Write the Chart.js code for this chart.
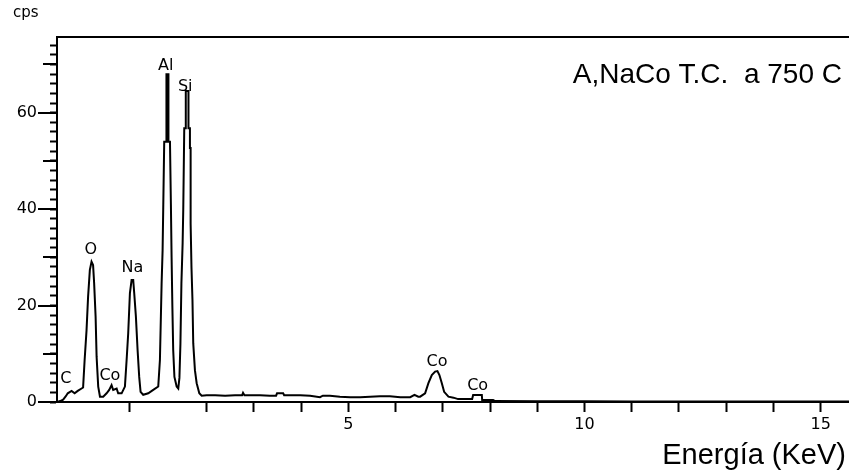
<!DOCTYPE html>
<html>
<head>
<meta charset="utf-8">
<title>A,NaCo T.C. a 750 C</title>
<script src="https://cdn.jsdelivr.net/npm/chart.js@4.4.1/dist/chart.umd.min.js"></script>
<style>
  html, body { margin: 0; padding: 0; background: #fff; }
  canvas { display: block; }
</style>
</head>
<body>
<canvas id="spectrum" width="849" height="470"></canvas>
<script>
// EDS spectrum (energy in keV, counts in cps)
var energy = [
  0.05, 0.09, 0.13, 0.165, 0.19, 0.24, 0.28, 0.32, 0.37, 0.39,
  0.41, 0.435, 0.455, 0.478, 0.50, 0.52, 0.534, 0.553, 0.566, 0.587,
  0.61, 0.652, 0.696, 0.73, 0.761, 0.782, 0.827, 0.847, 0.892, 0.935,
  0.957, 0.978, 1.0, 1.022, 1.043, 1.056, 1.078, 1.10, 1.121, 1.139,
  1.173, 1.239, 1.304, 1.369, 1.391, 1.413, 1.426, 1.434, 1.447, 1.476,
  1.476, 1.502, 1.502, 1.522, 1.534, 1.543, 1.553, 1.564, 1.58, 1.609,
  1.63, 1.645, 1.658, 1.671, 1.687, 1.695, 1.708, 1.728, 1.728, 1.763,
  1.763, 1.782, 1.782, 1.791, 1.791, 1.802, 1.815, 1.825, 1.847, 1.87,
  1.904, 1.935, 2.0, 2.18, 2.39, 2.6, 2.75, 2.77, 2.80, 3.13,
  3.34, 3.47, 3.49, 3.62, 3.64, 3.98, 4.19, 4.40, 4.46, 4.61,
  4.82, 5.04, 5.25, 5.46, 5.67, 5.88, 6.10, 6.31, 6.40, 6.48,
  6.52, 6.625, 6.695, 6.767, 6.837, 6.886, 6.928, 6.979, 7.028, 7.119,
  7.225, 7.324, 7.621, 7.642, 7.826, 7.833, 8.066, 8.108, 9.0, 10.0,
  11.0, 12.0, 13.0, 14.0, 15.0, 15.6
];
var cps = [
  0.0, 0.2, 0.5, 1.2, 1.8, 2.3, 1.8, 2.3, 2.8, 3.0,
  8.7, 14.9, 21.8, 27.4, 29.1, 28.4, 24.6, 17.7, 9.4, 3.2,
  1.1, 1.1, 1.8, 2.5, 3.5, 2.5, 2.8, 1.8, 1.8, 3.2,
  8.7, 14.3, 22.6, 25.3, 25.3, 22.6, 17.7, 10.8, 5.2, 2.1,
  1.5, 1.8, 2.5, 3.2, 8.7, 24.6, 31.5, 40, 54, 54,
  68, 68, 54, 54, 41, 30, 20, 10.8, 5.2, 3.2,
  2.8, 5.0, 12, 24.6, 33, 39.8, 56.8, 56.8, 64.5, 64.5,
  56.8, 56.8, 52.7, 52.7, 37, 28, 21.2, 12.2, 6.6, 3.9,
  1.8, 1.3, 1.4, 1.4, 1.3, 1.4, 1.4, 1.9, 1.4, 1.4,
  1.3, 1.3, 1.8, 1.8, 1.4, 1.4, 1.3, 1.0, 1.3, 1.3,
  1.1, 1.0, 1.0, 1.1, 1.2, 1.2, 1.0, 1.0, 1.5, 1.1,
  1.1, 1.8, 3.9, 5.6, 6.3, 6.4, 5.6, 3.9, 2.1, 1.1,
  0.9, 0.6, 0.6, 1.45, 1.45, 0.4, 0.4, 0.2, 0.15, 0.15,
  0.1, 0.1, 0.1, 0.1, 0.1, 0.1
];

// element labels: text, energy of label centre, cps of label baseline
var peakNames = ['C', 'O', 'Co', 'Na', 'Al', 'Si', 'Co', 'Co'];
var peakLabelKeV = [0.166, 0.49, 0.739, 1.033, 1.467, 1.721, 6.879, 7.737];
var peakLabelCps = [3.9, 30.7, 4.6, 27.0, 68.9, 64.4, 7.5, 2.5];

// axis ticks
var xTickValues = [1, 2, 3, 4, 5, 6, 7, 8, 9, 10, 11, 12, 13, 14, 15];
var xLabelled = [5, 10, 15];
var yLabelled = [0, 20, 40, 60];

var chartTitle = 'A,NaCo T.C.  a 750 C';
var xTitle = 'Energía (KeV)';
var yTitle = 'cps';

// the energy axis of the original is stretched below 2 keV
class KevScale extends Chart.LinearScale {
  warp(v) {
    var k = this.options.knee, s = this.options.lowStretch;
    return v < k ? k - (k - v) * s : v;
  }
  unwarp(w) {
    var k = this.options.knee, s = this.options.lowStretch;
    return w < k ? k - (k - w) / s : w;
  }
  getPixelForValue(value) {
    if (value === null || value === undefined) return NaN;
    var a = this.warp(this.min), b = this.warp(this.max);
    return this.getPixelForDecimal((this.warp(value) - a) / (b - a));
  }
  getValueForPixel(pixel) {
    var a = this.warp(this.min), b = this.warp(this.max);
    return this.unwarp(a + this.getDecimalForPixel(pixel) * (b - a));
  }
}
KevScale.id = 'kev';
KevScale.defaults = Chart.LinearScale.defaults;
Chart.register(KevScale);

var decorations = {
  id: 'decorations',
  afterDraw(chart) {
    var ctx = chart.ctx, area = chart.chartArea;
    var x = chart.scales.x, y = chart.scales.y;
    ctx.save();
    ctx.strokeStyle = '#000';
    ctx.lineWidth = 2;
    // top frame line
    ctx.beginPath();
    ctx.moveTo(area.left - 1, area.top);
    ctx.lineTo(area.right, area.top);
    ctx.stroke();
    // longer ticks every 10, longest at labelled values
    for (var v = 0; v <= y.max; v += 10) {
      var len = yLabelled.indexOf(v) >= 0 ? 19 : 14;
      var py = Math.round(y.getPixelForValue(v));
      ctx.beginPath();
      ctx.moveTo(area.left - len, py);
      ctx.lineTo(area.left, py);
      ctx.stroke();
    }
    ctx.fillStyle = '#000';
    ctx.textBaseline = 'alphabetic';
    ctx.font = '16px "DejaVu Sans"';
    ctx.textAlign = 'center';
    peakNames.forEach(function (t, i) {
      ctx.fillText(t, x.getPixelForValue(peakLabelKeV[i]), y.getPixelForValue(peakLabelCps[i]));
    });
    ctx.font = '15px "DejaVu Sans"';
    ctx.textAlign = 'left';
    ctx.fillText(yTitle, 13, 17);
    ctx.font = '28px "Liberation Sans"';
    ctx.textAlign = 'right';
    ctx.fillText(chartTitle, area.right - 7, area.top + 46);
    ctx.font = '29px "Liberation Sans"';
    ctx.fillText(xTitle, area.right - 3, 464);
    ctx.restore();
  }
};

Chart.defaults.font.family = '"DejaVu Sans"';
Chart.defaults.font.size = 16;
Chart.defaults.color = '#000';

var ctx = document.getElementById('spectrum').getContext('2d');
var spectrumChart = new Chart(ctx, {
  type: 'line',
  data: {
    datasets: [{
      data: energy.map(function (e, i) { return { x: e, y: cps[i] }; }),
      borderColor: '#000',
      borderWidth: 2,
      pointRadius: 0,
      tension: 0,
      fill: false
    }]
  },
  options: {
    responsive: false,
    devicePixelRatio: 1,
    animation: false,
    layout: { padding: { top: 37, left: 0, right: 0, bottom: 0 } },
    plugins: { legend: { display: false }, tooltip: { enabled: false } },
    scales: {
      x: {
        type: 'kev',
        knee: 2,
        lowStretch: 1.625,
        min: 0.05,
        max: 15.6,
        bounds: 'data',
        border: { display: true, color: '#000', width: 2 },
        grid: { drawOnChartArea: false, drawTicks: true, tickLength: 10, tickWidth: 2, tickColor: '#000' },
        ticks: {
          autoSkip: false,
          maxRotation: 0,
          padding: 3,
          callback: function (v) { return xLabelled.indexOf(v) >= 0 ? String(v) : ''; }
        },
        afterBuildTicks: function (scale) {
          scale.ticks = xTickValues.map(function (v) { return { value: v }; });
        },
        afterFit: function (scale) { scale.height = 68; }
      },
      y: {
        type: 'linear',
        min: 0,
        max: 75.7,
        bounds: 'data',
        border: { display: true, color: '#000', width: 2 },
        grid: { drawOnChartArea: false, drawTicks: true, tickLength: 7, tickWidth: 2, tickColor: '#000' },
        ticks: {
          stepSize: 2,
          includeBounds: false,
          autoSkip: false,
          padding: 13,
          callback: function (v) { return yLabelled.indexOf(v) >= 0 ? String(v) : ''; }
        },
        afterFit: function (scale) { scale.width = 57; }
      }
    }
  },
  plugins: [decorations]
});
</script>
</body>
</html>
